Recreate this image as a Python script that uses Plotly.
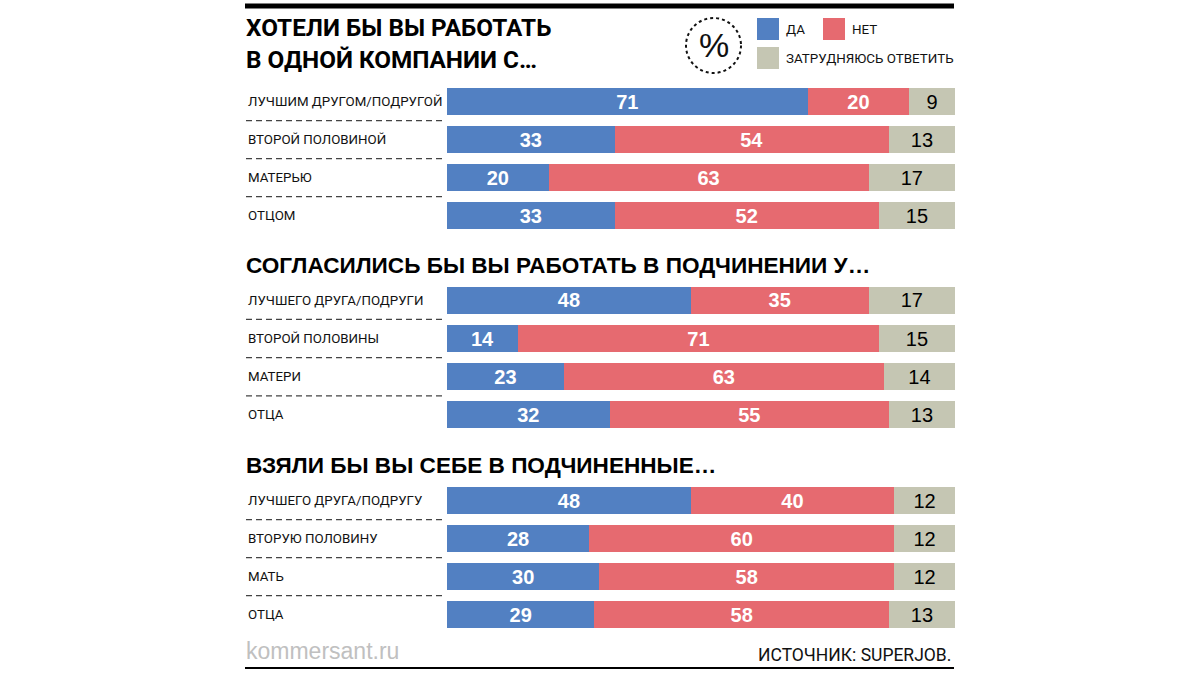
import plotly.graph_objects as go

# ---- data ----
cats1 = ["ЛУЧШИМ ДРУГОМ/ПОДРУГОЙ", "ВТОРОЙ ПОЛОВИНОЙ", "МАТЕРЬЮ", "ОТЦОМ"]
yes1 = [71, 33, 20, 33]
no1 = [20, 54, 63, 52]
uns1 = [9, 13, 17, 15]

cats2 = ["ЛУЧШЕГО ДРУГА/ПОДРУГИ", "ВТОРОЙ ПОЛОВИНЫ", "МАТЕРИ", "ОТЦА"]
yes2 = [48, 14, 23, 32]
no2 = [35, 71, 63, 55]
uns2 = [17, 15, 14, 13]

cats3 = ["ЛУЧШЕГО ДРУГА/ПОДРУГУ", "ВТОРУЮ ПОЛОВИНУ", "МАТЬ", "ОТЦА"]
yes3 = [48, 28, 30, 29]
no3 = [40, 60, 58, 58]
uns3 = [12, 12, 12, 13]

titles = ["ХОТЕЛИ БЫ ВЫ РАБОТАТЬ<br>В ОДНОЙ КОМПАНИИ С…",
          "СОГЛАСИЛИСЬ БЫ ВЫ РАБОТАТЬ В ПОДЧИНЕНИИ У…",
          "ВЗЯЛИ БЫ ВЫ СЕБЕ В ПОДЧИНЕННЫЕ…"]
series_names = ["ДА", "НЕТ", "ЗАТРУДНЯЮСЬ ОТВЕТИТЬ"]
source = "ИСТОЧНИК: SUPERJOB."
site = "kommersant.ru"

# ---- style ----
W, H = 1200, 675
BLUE, RED, GREY = "#5280C2", "#E66A70", "#C5C6B3"
NUMFONT = "Liberation Sans, Arial, sans-serif"
NARROW = "Roboto, Liberation Sans, sans-serif"


def px(x):
    return x / W


def py(y):
    return 1 - y / H


fig = go.Figure()
groups = [(cats1, yes1, no1, uns1), (cats2, yes2, no2, uns2), (cats3, yes3, no3, uns3)]
domains = [(py(234.5), py(82.7)), (py(434), py(281.3)), (py(633.7), py(481.5))]
title_y = [None, 265, 465]

annotations = []
shapes = []
for i, (cats, ys, ns, us) in enumerate(groups):
    xa = "x" if i == 0 else f"x{i+1}"
    ya = "y" if i == 0 else f"y{i+1}"
    for vals, col, fc, bold in [(ys, BLUE, "white", "bold"), (ns, RED, "white", "bold"), (us, GREY, "black", "normal")]:
        fig.add_trace(go.Bar(
            y=cats, x=vals, orientation="h", marker=dict(color=col, line=dict(width=0)),
            text=[str(v) for v in vals], textposition="inside", insidetextanchor="middle",
            textangle=0, constraintext="none",
            insidetextfont=dict(family=NUMFONT, size=20, color=fc, weight=bold),
            xaxis=xa, yaxis=ya, showlegend=False, hoverinfo="skip"))
    lay_x = "xaxis" if i == 0 else f"xaxis{i+1}"
    lay_y = "yaxis" if i == 0 else f"yaxis{i+1}"
    fig.layout[lay_x] = dict(domain=[px(447), px(955)], range=[0, 100], visible=False,
                             anchor=ya, fixedrange=True)
    fig.layout[lay_y] = dict(domain=list(domains[i]), range=[3.5, -0.5], visible=False,
                             anchor=xa, type="category", fixedrange=True)
    for c in cats:
        annotations.append(dict(text=c, x=px(246), xref="paper", y=c, yref=ya,
                                xanchor="left", yanchor="middle", showarrow=False,
                                font=dict(family=NARROW, size=13.3, color="#111")))
    for k in range(3):
        shapes.append(dict(type="line", xref="paper", yref=ya, x0=px(246), x1=px(446),
                           y0=k + 0.5, y1=k + 0.5, line=dict(color="#444", width=1.3, dash="6px,4px")))

# titles
annotations.append(dict(text=titles[0], x=px(244), y=py(43), xref="paper", yref="paper",
                        xanchor="left", yanchor="middle", align="left", showarrow=False,
                        font=dict(family=NARROW, size=24.3, color="#000", weight="bold")))
for i in (1, 2):
    annotations.append(dict(text=titles[i], x=px(244), y=py(title_y[i]), xref="paper", yref="paper",
                            xanchor="left", yanchor="middle", showarrow=False,
                            font=dict(family=NUMFONT, size=22.6, color="#000", weight="bold")))

# legend (custom)
leg = [(BLUE, 757, 18, series_names[0]), (RED, 823, 18, series_names[1]), (GREY, 757, 47, series_names[2])]
for col, lx, ly, name in leg:
    shapes.append(dict(type="rect", xref="paper", yref="paper", x0=px(lx), x1=px(lx + 22),
                       y0=py(ly + 22), y1=py(ly), fillcolor=col, line=dict(width=0)))
    annotations.append(dict(text=name, x=px(lx + 27), y=py(ly + 11), xref="paper", yref="paper",
                            xanchor="left", yanchor="middle", showarrow=False,
                            font=dict(family=NARROW, size=13.4, color="#111")))
# percent circle
shapes.append(dict(type="circle", xref="paper", yref="paper", x0=px(686), x1=px(741),
                   y0=py(73), y1=py(18), line=dict(color="#111", width=2, dash="dot")))
annotations.append(dict(text="%", x=px(713.5), y=py(45), xref="paper", yref="paper",
                        xanchor="center", yanchor="middle", showarrow=False,
                        font=dict(family=NUMFONT, size=34, color="#111")))

# rules
shapes.append(dict(type="line", xref="paper", yref="paper", x0=px(245), x1=px(954),
                   y0=py(6), y1=py(6), line=dict(color="#000", width=5)))
shapes.append(dict(type="line", xref="paper", yref="paper", x0=px(245), x1=px(954),
                   y0=py(668), y1=py(668), line=dict(color="#000", width=2)))

# footer
annotations.append(dict(text=site, x=px(244), y=py(651), xref="paper", yref="paper",
                        xanchor="left", yanchor="middle", showarrow=False,
                        font=dict(family=NUMFONT, size=23, color="#C0C0C0")))
annotations.append(dict(text=source, x=px(953), y=py(655), xref="paper", yref="paper",
                        xanchor="right", yanchor="middle", showarrow=False,
                        font=dict(family=NARROW, size=17.5, color="#111")))

fig.update_layout(width=W, height=H, margin=dict(l=0, r=0, t=0, b=0),
                  paper_bgcolor="white", plot_bgcolor="white",
                  barmode="stack", bargap=0.29,
                  annotations=annotations, shapes=shapes, showlegend=False)

fig.write_html("out.html", config={"displayModeBar": False})
